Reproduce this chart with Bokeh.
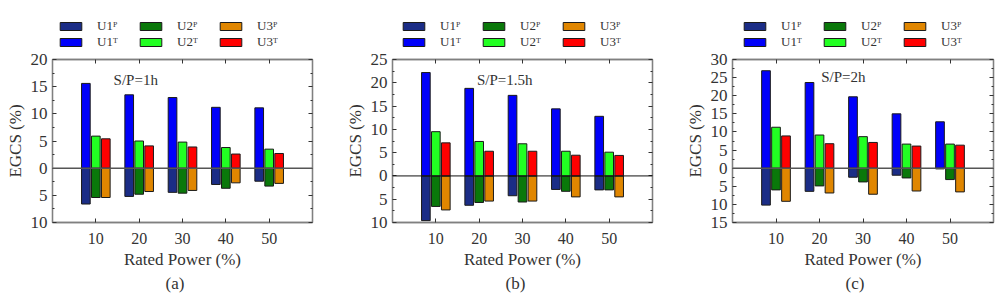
from bokeh.plotting import figure
from bokeh.layouts import row, column
from bokeh.models import (Range1d, FixedTicker, LinearAxis, CustomJSTickFormatter,
                          Span, Label, Legend, LegendItem, Title)
from bokeh.embed import file_html
from bokeh.resources import INLINE

# Rated power categories (%)
rated_power = [10, 20, 30, 40, 50]

# EGCS (%) for S/P = 1h
a_u1p = [6.6, 5.2, 4.45, 3.0, 2.4]
a_u2p = [5.4, 4.8, 4.6, 3.7, 3.3]
a_u3p = [5.4, 4.3, 4.1, 2.7, 2.8]
a_u1t = [15.6, 13.5, 13.0, 11.2, 11.1]
a_u2t = [5.9, 5.0, 4.8, 3.8, 3.5]
a_u3t = [5.4, 4.1, 3.9, 2.6, 2.7]

# EGCS (%) for S/P = 1.5h
b_u1p = [9.6, 6.3, 4.25, 2.9, 3.0]
b_u2p = [6.55, 5.7, 5.6, 3.3, 3.0]
b_u3p = [7.3, 5.4, 5.4, 4.5, 4.5]
b_u1t = [22.2, 18.8, 17.3, 14.4, 12.8]
b_u2t = [9.5, 7.4, 6.9, 5.3, 5.1]
b_u3t = [7.1, 5.3, 5.3, 4.45, 4.4]

# EGCS (%) for S/P = 2h
c_u1p = [10.2, 6.4, 2.5, 1.95, 0.2]
c_u2p = [6.0, 4.9, 3.8, 2.7, 3.15]
c_u3p = [9.15, 6.85, 7.2, 6.3, 6.55]
c_u1t = [26.9, 23.65, 19.7, 15.0, 12.8]
c_u2t = [11.3, 9.15, 8.7, 6.65, 6.65]
c_u3t = [8.9, 6.75, 7.1, 6.1, 6.35]

# y-axis tick values per panel
a_yticks = [-10, -5, 0, 5, 10, 15, 20]
b_yticks = [-10, -5, 0, 5, 10, 15, 20, 25]
c_yticks = [-15, -10, -5, 0, 5, 10, 15, 20, 25, 30]

# legend labels (P and T parts of each unit)
labels_p = ["U1ᴾ", "U2ᴾ", "U3ᴾ"]
labels_t = ["U1ᵀ", "U2ᵀ", "U3ᵀ"]

SERIF = "Liberation Serif"
COLORS_P = ["#1b2d86", "#0a780a", "#e08600"]
COLORS_T = ["#0000fa", "#22ff22", "#ff0000"]
LEGEND_H = 50
NAN = float("nan")


def shifted(xs, dx):
    return [x + dx for x in xs]


def negated(vals):
    return [-v for v in vals]


def make_legend(width, legend_x):
    # strip holding the legend above each panel; its glyphs carry no drawable data
    lf = figure(width=width, height=LEGEND_H, x_range=Range1d(0, 1), y_range=Range1d(0, 1),
                output_backend="svg", toolbar_location=None,
                x_axis_location=None, y_axis_location=None,
                min_border_left=0, min_border_right=0, min_border_top=0, min_border_bottom=0)
    lf.xgrid.visible = False
    lf.ygrid.visible = False
    lf.outline_line_color = None
    lf.background_fill_color = "white"
    lf.border_fill_color = "white"
    kw = dict(width=1, line_color="#1a1a1a", line_width=1)
    rp = [lf.vbar(x=[NAN], top=[NAN], fill_color=c, **kw) for c in COLORS_P]
    rt = [lf.vbar(x=[NAN], top=[NAN], fill_color=c, **kw) for c in COLORS_T]
    items = ([LegendItem(label=l, renderers=[r]) for l, r in zip(labels_p, rp)] +
             [LegendItem(label=l, renderers=[r]) for l, r in zip(labels_t, rt)])
    # the strip's frame lines up with the panel frame below it
    legend = Legend(items=items, location=(legend_x, 0), orientation="horizontal", ncols=3,
                    glyph_width=27, glyph_height=10, label_standoff=13, label_width=40,
                    label_height=12, spacing=0, padding=0, margin=0,
                    label_text_font=SERIF, label_text_font_size="13px",
                    label_text_color="#333333",
                    background_fill_alpha=0, border_line_alpha=0)
    lf.add_layout(legend)
    return lf


def make_panel(series, yticks, ylo, yhi, note, note_xy, tag, width, border_right,
               zero_color, zero_width):
    p = figure(width=width, height=307 - LEGEND_H, x_range=Range1d(0, 60),
               y_range=Range1d(ylo, yhi),
               output_backend="svg", toolbar_location=None,
               min_border_left=52, min_border_right=border_right,
               min_border_top=9, min_border_bottom=85)
    p.background_fill_color = "white"
    p.border_fill_color = "white"
    p.xgrid.visible = False
    p.ygrid.visible = False
    p.outline_line_color = "#808080"
    p.outline_line_width = 1.3

    u1p, u2p, u3p, u1t, u2t, u3t = series
    bw, off = 2.0, 2.3
    kw = dict(width=bw, line_color="#1a1a1a", line_width=1)
    xs = [shifted(rated_power, -off), rated_power, shifted(rated_power, off)]
    for x, vals, c in zip(xs, (u1p, u2p, u3p), COLORS_P):
        p.vbar(x=x, top=0, bottom=negated(vals), fill_color=c, **kw)
    for x, vals, c in zip(xs, (u1t, u2t, u3t), COLORS_T):
        p.vbar(x=x, bottom=0, top=vals, fill_color=c, **kw)

    p.add_layout(Span(location=0, dimension="width", line_color=zero_color, line_width=zero_width))

    minor = [(a + b) / 2 for a, b in zip(yticks[:-1], yticks[1:])]
    yticker = FixedTicker(ticks=yticks, minor_ticks=minor)
    xticker = FixedTicker(ticks=rated_power, minor_ticks=[])
    absfmt = CustomJSTickFormatter(code="return String(Math.abs(tick));")
    blank = CustomJSTickFormatter(code="return '';")

    def style(ax, labels=True):
        ax.axis_line_color = "#808080"
        ax.axis_line_width = 1.3
        ax.major_tick_in = 4
        ax.major_tick_out = 0
        ax.minor_tick_in = 2
        ax.minor_tick_out = 0
        ax.major_tick_line_color = "#333333"
        ax.minor_tick_line_color = "#333333"
        if not labels:
            ax.major_label_text_font_size = "0px"
            ax.major_label_standoff = 0

    yax = p.yaxis[0]
    yax.ticker = yticker
    yax.formatter = absfmt
    style(yax)
    yax.major_label_text_font = SERIF
    yax.major_label_text_font_size = "17px"
    yax.major_label_text_color = "#333333"
    yax.major_label_standoff = 5
    yax.axis_label = "EGCS (%)"
    yax.axis_label_text_font = SERIF
    yax.axis_label_text_font_size = "17px"
    yax.axis_label_text_font_style = "normal"
    yax.axis_label_text_color = "#333333"
    yax.axis_label_standoff = 3

    xax = p.xaxis[0]
    xax.ticker = xticker
    style(xax)
    xax.minor_tick_in = 0
    xax.major_label_text_font = SERIF
    xax.major_label_text_font_size = "16px"
    xax.major_label_text_color = "#333333"
    xax.major_label_standoff = 10
    xax.axis_label = "Rated Power (%)"
    xax.axis_label_text_font = SERIF
    xax.axis_label_text_font_size = "17px"
    xax.axis_label_text_font_style = "normal"
    xax.axis_label_text_color = "#333333"
    xax.axis_label_standoff = 3

    rax = LinearAxis(ticker=yticker, formatter=blank)
    style(rax, labels=False)
    p.add_layout(rax, "right")
    tax = LinearAxis(ticker=xticker, formatter=blank)
    style(tax, labels=False)
    tax.minor_tick_in = 0
    p.add_layout(tax, "above")

    p.add_layout(Title(text=tag, align="left", offset=113, text_font=SERIF,
                       text_font_size="17px", text_font_style="normal",
                       text_color="#333333", standoff=0), "below")

    p.add_layout(Label(x=note_xy[0], y=note_xy[1], text=note, text_font=SERIF,
                       text_font_size="15px", text_color="#333333",
                       text_baseline="middle", text_align="left"))
    return p


pa = make_panel((a_u1p, a_u2p, a_u3p, a_u1t, a_u2t, a_u3t), a_yticks, -10, 20,
                "S/P=1h", (14.1, 16.2), "(a)", 340, 28, "#555555", 1.5)
pb = make_panel((b_u1p, b_u2p, b_u3p, b_u1t, b_u2t, b_u3t), b_yticks, -10, 25,
                "S/P=1.5h", (19.5, 20.5), "(b)", 340, 28, "#111111", 1.0)
pc = make_panel((c_u1p, c_u2p, c_u3p, c_u1t, c_u2t, c_u3t), c_yticks, -15, 30,
                "S/P=2h", (20.4, 25.1), "(c)", 319, 6, "#555555", 1.5)

layout = row(column(make_legend(340, 5), pa),
             column(make_legend(340, 8), pb),
             column(make_legend(319, 9), pc))
open("out.html", "w").write(file_html(layout, INLINE))
